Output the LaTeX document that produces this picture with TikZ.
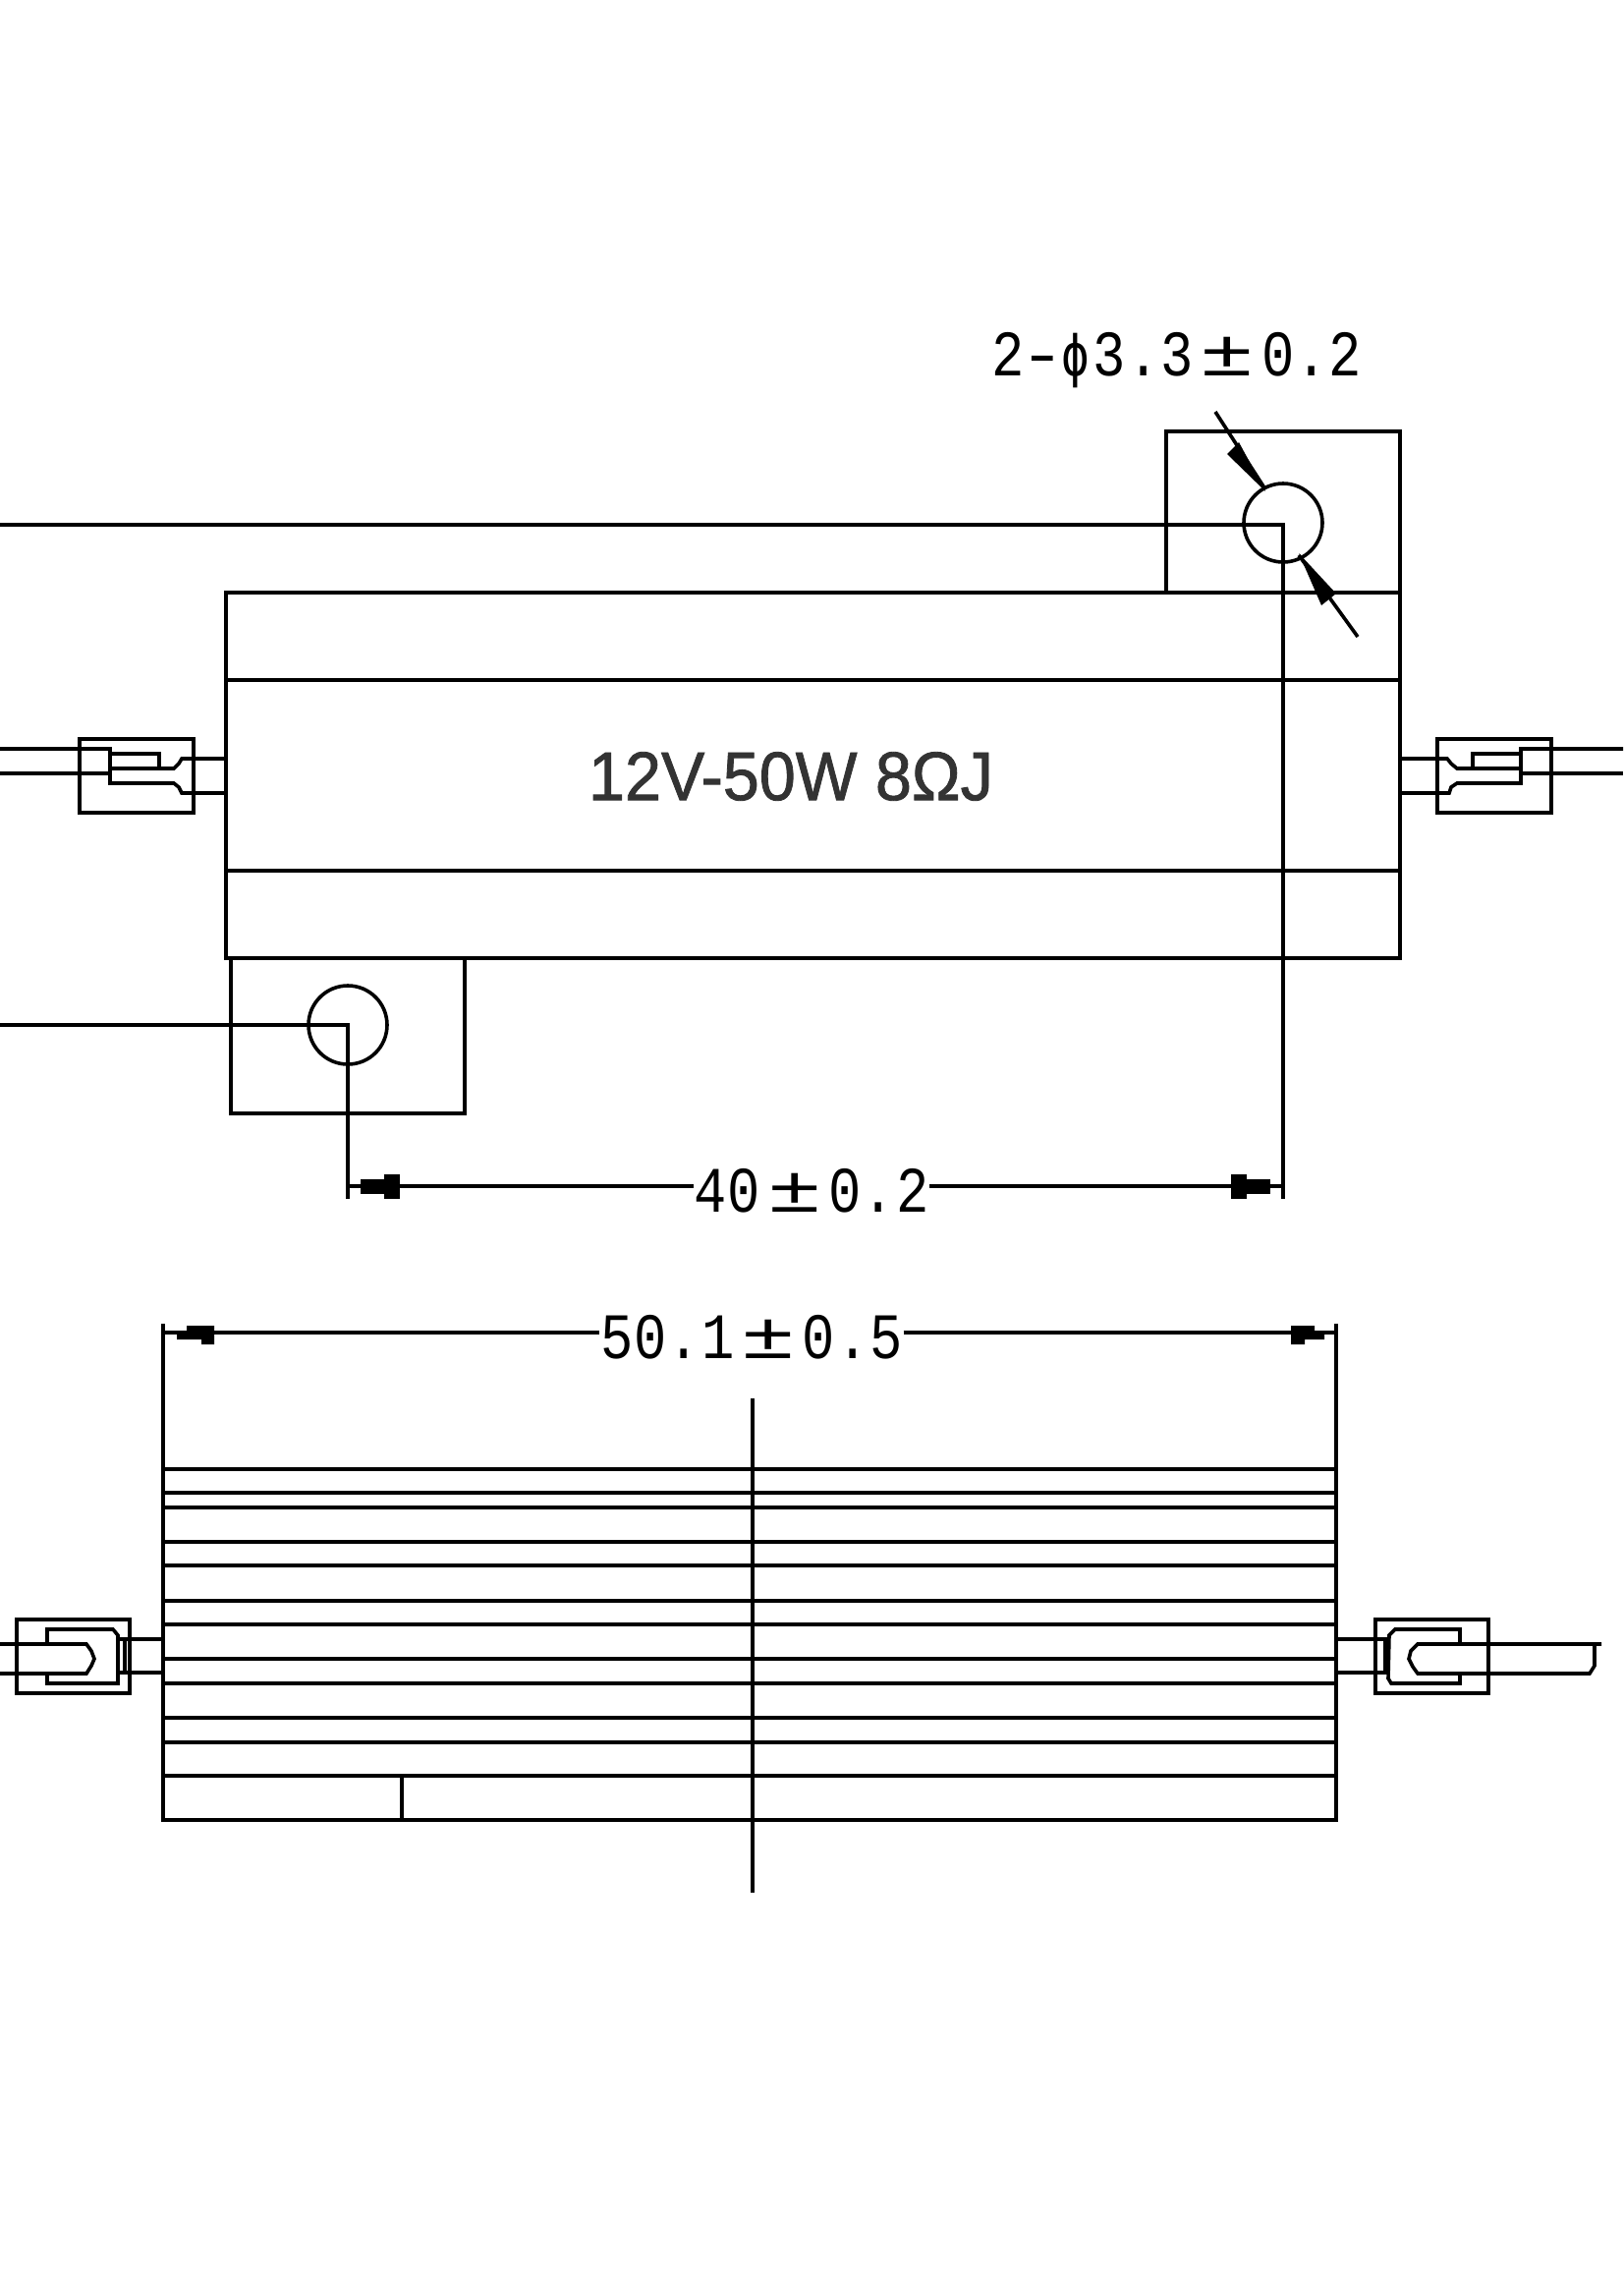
\documentclass[tikz,border=0pt]{standalone}
\usepackage{fontspec}
\usepackage{graphicx}
\setmainfont{Liberation Sans}
\newfontfamily\dimfont{Liberation Mono}
\newfontfamily\phifont{DejaVu Sans Mono}
\newfontfamily\markfont[FakeBold=1.2]{Liberation Sans}
\newcommand{\nch}[1]{\makebox[34.3pt]{\scalebox{0.84}[1]{#1}}}
\newcommand{\wch}[1]{\makebox[68.6pt]{\scalebox{1.4}[1]{#1}}}
\tikzset{
  ln/.style={line width=3.6pt,black},
  dimtxt/.style={inner sep=0pt,font=\dimfont\fontsize{66}{66}\selectfont,anchor=center},
  marktxt/.style={inner sep=0pt,font=\markfont\fontsize{70}{70}\selectfont,text=black!80},
  hole/.style={ln,draw,circle,minimum size=80pt,inner sep=0pt}
}
\begin{document}
\begin{tikzpicture}[x=1pt,y=-1pt]
\useasboundingbox (0,0) rectangle (1652,2313);
% top view
\draw[ln] (230,603) rectangle (1425,975);
\draw[ln] (230,692) -- (1425,692);
\draw[ln] (230,886) -- (1425,886);
\draw[ln] (1187,603) -- (1187,439) -- (1425,439) -- (1425,603);
\draw[ln] (235,975) -- (235,1133) -- (473,1133) -- (473,975);
\node[hole] (h1) at (1306,532) {};
\node[hole] (h2) at (354,1043) {};
\coordinate (l1) at (0,534);
\coordinate (l2) at (0,1043);
\coordinate (c1) at (1306,534);
\draw[ln] (l1) -- (c1) -- (1306,1220);
\draw[ln] (l2) -- (h2.center) -- (354,1220);
% hole arrows
\coordinate (a1) at (1237,419);
\coordinate (a2) at (1382,648);
\draw[ln] (a1) -- (1288,498);
\fill (1288,500) -- (1249,462) -- (1261,450) -- cycle;
\draw[ln] (a2) -- (1322,565);
\fill (1322,563) -- (1345,616) -- (1360,604) -- cycle;
% 40 dimension
\node[dimtxt] (t40) at (826,1212) {\nch{4}\nch{0}\wch{±}\nch{0}\nch{.}\nch{2}};
\coordinate (d40l) at (354,1207);
\coordinate (d40r) at (1306,1207);
\draw[ln] (d40l) -- (d40l -| t40.west);
\draw[ln] (d40r -| t40.east) -- (d40r);
\fill (367,1200) rectangle (391,1215);
\fill (391,1195) rectangle (407,1220);
\fill (1293,1200) rectangle (1269,1215);
\fill (1269,1195) rectangle (1253,1220);
% hole label
\node[dimtxt] (t2) at (1198,367) {\nch{2}\makebox[34.3pt]{\scalebox{1.2}[1]{-}}\makebox[34.3pt]{\phifont\scalebox{0.72}[0.9]{ϕ}}\nch{3}\nch{.}\nch{3}\wch{±}\nch{0}\nch{.}\nch{2}};
% marking
\node[marktxt] (mk) at (805,790) {\scalebox{0.95}[1]{12V-50W 8ΩJ}};
% left connector top
\draw[ln] (81,752) rectangle (197,827);
\draw[ln] (0,762) -- (112,762) -- (112,797) -- (177,797) -- (182,801) -- (185,807) -- (230,807);
\draw[ln] (0,787) -- (112,787);
\draw[ln] (112,782) -- (177,782) -- (182,777) -- (185,772) -- (230,772);
\draw[ln] (112,767) -- (162,767) -- (162,782);
% right connector top
\draw[ln] (1463,752) rectangle (1579,827);
\draw[ln] (1652,762) -- (1548,762) -- (1548,797) -- (1483,797) -- (1477,801) -- (1475,807) -- (1425,807);
\draw[ln] (1652,787) -- (1548,787);
\draw[ln] (1548,782) -- (1483,782) -- (1477,777) -- (1473,772) -- (1425,772);
\draw[ln] (1548,767) -- (1499,767) -- (1499,782);
% bottom view
\draw[ln] (166,1347) -- (166,1852) -- (1360,1852) -- (1360,1347);
\foreach \yy in {1495,1519,1534,1569,1593,1629,1653,1688,1713,1748,1773,1807}
  \draw[ln] (166,\yy) -- (1360,\yy);
\draw[ln] (409,1807) -- (409,1852);
\draw[ln] (766,1423) -- (766,1926);
% 50.1 dimension
\node[dimtxt] (t50) at (765,1361) {\nch{5}\nch{0}\nch{.}\nch{1}\wch{±}\nch{0}\nch{.}\nch{5}};
\coordinate (d50l) at (166,1356);
\coordinate (d50r) at (1360,1356);
\draw[ln] (d50l) -- (d50l -| t50.west);
\draw[ln] (d50r -| t50.east) -- (d50r);
\fill (180,1355) -- (190,1355) -- (190,1349) -- (218,1349) -- (218,1368) -- (205,1368) -- (205,1363) -- (180,1363) -- cycle;
\fill (1314,1349) -- (1338,1349) -- (1338,1355) -- (1348,1355) -- (1348,1363) -- (1328,1363) -- (1328,1368) -- (1314,1368) -- cycle;
% left connector bottom
\draw[ln] (17,1648) rectangle (132,1723);
\draw[ln] (0,1673) -- (88,1673) -- (93,1680) -- (96,1688) -- (93,1695) -- (88,1703) -- (0,1703);
\draw[ln] (48,1673) -- (48,1658) -- (115,1658) -- (120,1664) -- (120,1713) -- (48,1713) -- (48,1703);
\draw[ln] (122,1668) -- (166,1668);
\draw[ln] (122,1702) -- (166,1702);
\draw[ln] (127,1668) -- (127,1702);
% right connector bottom
\draw[ln] (1400,1648) rectangle (1515,1723);
\draw[ln] (1630,1673) -- (1443,1673) -- (1436,1680) -- (1434,1688) -- (1438,1696) -- (1443,1703) -- (1618,1703) -- (1623,1695) -- (1623,1673);
\draw[ln] (1486,1673) -- (1486,1658) -- (1420,1658) -- (1414,1664) -- (1413,1708) -- (1416,1713) -- (1486,1713) -- (1486,1703);
\draw[ln] (1360,1668) -- (1410,1668) -- (1410,1702) -- (1360,1702);
\end{tikzpicture}
\end{document}
